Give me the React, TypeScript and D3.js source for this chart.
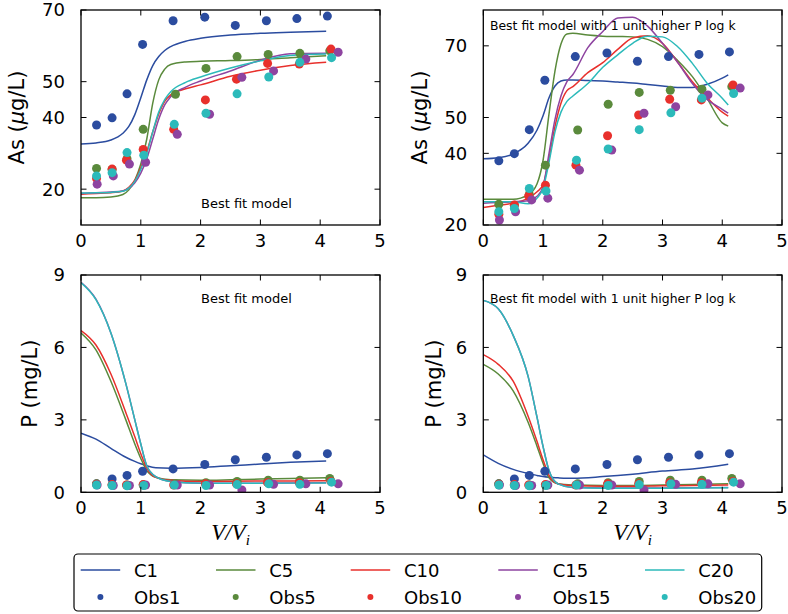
import React from "react";
import * as d3 from "d3";

// ---------- data ----------
const seriesNames = ["1", "5", "10", "15", "20"];
const colors = ["#2b4c9f", "#5a8a3c", "#e8302c", "#8e44a0", "#2cbaba"];

const xTicks = [0, 1, 2, 3, 4, 5];
const asTicks = [20, 40, 50, 70];
const pTicks = [0, 3, 6, 9];

// observation x positions (V/Vi)
const obsX1 = [0.26, 0.52, 0.77, 1.03, 1.54, 2.07, 2.58, 3.1, 3.61, 4.12];
const obsX5 = [0.26, 0.52, 0.77, 1.04, 1.58, 2.09, 2.61, 3.13, 3.66, 4.16];
const obsX10 = [0.26, 0.52, 0.76, 1.04, 1.55, 2.08, 2.6, 3.12, 3.65, 4.18];
const obsX15 = [0.27, 0.54, 0.81, 1.08, 1.61, 2.15, 2.69, 3.22, 3.76, 4.3];
const obsX20 = [0.26, 0.52, 0.77, 1.05, 1.56, 2.09, 2.61, 3.14, 3.66, 4.19];

// observed As (ug/L)
const asObs1 = [37.9, 39.9, 46.6, 60.4, 67.0, 68.0, 65.7, 67.0, 67.6, 68.3];
const asObs5 = [25.8, 25.5, 28.5, 36.7, 46.5, 53.7, 57.0, 57.6, 57.9, 58.6];
const asObs10 = [23.0, 25.6, 28.1, 31.1, 36.7, 44.9, 50.7, 55.1, 54.9, 59.1];
const asObs15 = [21.4, 23.7, 27.0, 27.5, 35.3, 40.9, 51.2, 53.0, 56.3, 58.2];
const asObs20 = [23.7, 24.6, 30.2, 29.5, 38.1, 41.2, 46.6, 51.3, 55.4, 56.7];

// observed P (mg/L)
const pObs1 = [0.35, 0.55, 0.7, 0.87, 0.97, 1.15, 1.35, 1.45, 1.55, 1.6];
const pObs5 = [0.35, 0.3, 0.3, 0.3, 0.35, 0.4, 0.45, 0.5, 0.5, 0.57];
const pObs10 = [0.33, 0.32, 0.3, 0.32, 0.3, 0.35, 0.35, 0.4, 0.4, 0.45];
const pObs15 = [0.3, 0.28, 0.28, 0.3, 0.3, 0.3, 0.1, 0.33, 0.35, 0.35];
const pObs20 = [0.3, 0.28, 0.27, 0.28, 0.3, 0.28, 0.32, 0.35, 0.33, 0.42];

// model As, best fit
const tlX = [0, 0.25, 0.5, 0.7, 0.8, 0.9, 1.0, 1.1, 1.2, 1.3, 1.4, 1.5, 1.75, 2, 2.5, 3, 3.5, 4.1];
const tlC1 = [32.6, 32.9, 33.7, 35.6, 37.5, 40.8, 45.5, 50.5, 54.5, 57.0, 58.7, 59.8, 61.3, 62.1, 63.0, 63.5, 63.8, 64.1];
const tlC5 = [17.6, 17.6, 17.8, 18.5, 19.8, 22.5, 27, 34, 44, 50.5, 53.5, 54.8, 55.5, 55.7, 55.9, 56.2, 56.7, 57.2];
const tlC10 = [18.6, 18.8, 19.0, 19.5, 20.5, 22.5, 26, 30.5, 36, 41, 44.5, 46.3, 48, 49.1, 51.5, 53.2, 54.5, 55.4];
const tlC15 = [18.8, 19, 19.2, 19.5, 20.2, 21.8, 24.5, 28.5, 34, 39.5, 43.5, 45.8, 48.5, 50.2, 53, 56, 57.8, 57.9];
const tlC20 = [18.9, 19, 19.1, 19.4, 20.3, 22.2, 25.5, 30, 36, 41.5, 45, 47.2, 49.8, 51.3, 53.8, 55.8, 57.3, 57.7];

// model As, 1 unit higher P log k
const trX = [0, 0.25, 0.5, 0.75, 0.9, 1.0, 1.1, 1.2, 1.3, 1.4, 1.5, 1.75, 2, 2.25, 2.5, 2.75, 3, 3.25, 3.5, 3.75, 4.0, 4.1];
const trC1 = [38.5, 38.8, 39.8, 42.8, 46.5, 50.5, 55.5, 58.8, 60.2, 60.5, 60.5, 60.3, 60.2, 59.9, 59.6, 59.2, 58.8, 58.4, 58.4, 59.3, 61.0, 61.9];
const trC5 = [27.2, 27.2, 27.2, 28.4, 31.5, 38, 51, 63, 70.5, 73.3, 73.5, 73, 72.7, 72.6, 72.5, 71.8, 69.8, 66, 61.4, 55.2, 48.5, 47.6];
const trC10 = [24.9, 25.5, 26.1, 27.5, 29.3, 31.2, 38.5, 47.5, 54, 57.5, 58.6, 62.5, 65.3, 69, 72.2, 72.8, 70.7, 65.5, 60, 55.5, 51.5, 50.4];
const trC15 = [26.1, 26.3, 26.5, 26.8, 28, 30.7, 40, 49.5, 56, 60, 62, 69.5, 74, 77.8, 78, 75.5, 70.7, 65.5, 59.5, 55, 52.3, 51.2];
const trC20 = [26.5, 26.5, 26.5, 25.9, 27.5, 30.2, 37.5, 46, 51.5, 54.5, 56, 59.5, 64, 67.5, 70.7, 72.7, 72.5, 69.8, 65.1, 59.5, 55.4, 53.5];

// model P, best fit
const bX = [0, 0.25, 0.5, 0.75, 0.9, 1.0, 1.1, 1.25, 1.5, 2, 2.5, 3, 3.5, 4.1];
const blC1 = [2.45, 2.2, 1.82, 1.45, 1.28, 1.18, 1.1, 1.02, 1.0, 1.03, 1.1, 1.17, 1.24, 1.3];
const blC5 = [6.6, 5.9, 4.6, 3.0, 2.0, 1.4, 0.9, 0.62, 0.52, 0.5, 0.52, 0.55, 0.57, 0.6];
const blC10 = [6.7, 6.1, 4.9, 3.3, 2.3, 1.6, 1.0, 0.62, 0.5, 0.45, 0.46, 0.47, 0.47, 0.48];
const blC15 = [8.7, 8.0, 6.6, 4.5, 3.0, 2.0, 1.1, 0.65, 0.45, 0.38, 0.38, 0.38, 0.39, 0.4];
const blC20 = [8.68, 7.98, 6.6, 4.5, 3.0, 2.0, 1.1, 0.65, 0.45, 0.38, 0.37, 0.37, 0.38, 0.39];

// model P, 1 unit higher P log k
const brC1 = [1.55, 1.2, 0.95, 0.78, 0.7, 0.65, 0.62, 0.6, 0.58, 0.65, 0.75, 0.88, 0.96, 1.16];
const brC5 = [5.3, 4.9, 4.2, 2.9, 1.9, 1.2, 0.6, 0.35, 0.3, 0.28, 0.28, 0.3, 0.32, 0.35];
const brC10 = [5.7, 5.3, 4.6, 3.15, 2.1, 1.35, 0.7, 0.35, 0.27, 0.25, 0.25, 0.27, 0.28, 0.3];
const brC15 = [7.95, 7.6, 6.5, 4.8, 3.1, 1.9, 0.9, 0.35, 0.2, 0.18, 0.18, 0.18, 0.19, 0.2];
const brC20 = [7.95, 7.6, 6.5, 4.8, 3.1, 1.9, 0.9, 0.35, 0.2, 0.17, 0.17, 0.17, 0.18, 0.19];

const obsXs = [obsX1, obsX5, obsX10, obsX15, obsX20];
const asObs = [asObs1, asObs5, asObs10, asObs15, asObs20];
const pObs = [pObs1, pObs5, pObs10, pObs15, pObs20];

const FONT = "'DejaVu Sans', sans-serif";

type PanelProps = {
  id: string;
  left: number; right: number; top: number; bottom: number;
  yDomain: [number, number];
  yTicks: number[];
  curveX: number[];
  curves: number[][];
  obs: number[][];
  annot: string; annotX: number; annotY: number; annotSize: number;
  ylabel: "as" | "p"; ylabelX: number;
  xlabel: boolean;
};

function Panel(p: PanelProps) {
  const xs = d3.scaleLinear().domain([0, 5]).range([p.left, p.right]);
  const ys = d3.scaleLinear().domain(p.yDomain).range([p.bottom, p.top]);
  const tl = 5.5;
  const midY = (p.top + p.bottom) / 2;
  const midX = (p.left + p.right) / 2;
  return (
    <g>
      <defs>
        <clipPath id={p.id}>
          <rect x={p.left} y={p.top} width={p.right - p.left} height={p.bottom - p.top} />
        </clipPath>
      </defs>
      <g clipPath={`url(#${p.id})`}>
        {p.curves.map((c, si) => {
          const line = d3
            .line<number>()
            .x((_, i) => xs(p.curveX[i]))
            .y((d) => ys(d))
            .curve(d3.curveMonotoneX);
          return <path key={si} d={line(c) || ""} fill="none" stroke={colors[si]} strokeWidth={1.5} />;
        })}
        {p.obs.map((o, si) =>
          o.map((v, i) => (
            <circle key={`${si}-${i}`} cx={xs(obsXs[si][i])} cy={ys(v)} r={4.5} fill={colors[si]} />
          ))
        )}
      </g>
      {xTicks.map((t) => (
        <g key={"x" + t}>
          <line x1={xs(t)} x2={xs(t)} y1={p.bottom} y2={p.bottom - tl} stroke="#000" strokeWidth={1} />
          <line x1={xs(t)} x2={xs(t)} y1={p.top} y2={p.top + tl} stroke="#000" strokeWidth={1} />
          <text x={xs(t)} y={p.bottom + 21.5} fontSize={18} fontFamily={FONT} textAnchor="middle">{t}</text>
        </g>
      ))}
      {p.yTicks.map((t) => (
        <g key={"y" + t}>
          <line x1={p.left} x2={p.left + tl} y1={ys(t)} y2={ys(t)} stroke="#000" strokeWidth={1} />
          <line x1={p.right} x2={p.right - tl} y1={ys(t)} y2={ys(t)} stroke="#000" strokeWidth={1} />
          <text x={p.left - 16} y={ys(t)} dy="0.36em" fontSize={18} fontFamily={FONT} textAnchor="end">{t}</text>
        </g>
      ))}
      <rect x={p.left} y={p.top} width={p.right - p.left} height={p.bottom - p.top} fill="none" stroke="#000" strokeWidth={1.3} />
      <text x={p.annotX} y={p.annotY} fontSize={p.annotSize} fontFamily={FONT}>{p.annot}</text>
      <text transform={`translate(${p.ylabelX},${midY}) rotate(-90)`} fontSize={21} fontFamily={FONT} textAnchor="middle">
        {p.ylabel === "as" ? (
          <>As (<tspan fontStyle="italic">μ</tspan>g/L)</>
        ) : (
          <>P (mg/L)</>
        )}
      </text>
      {p.xlabel && (
        <text x={midX} y={p.bottom + 48} fontSize={23} fontFamily="'Liberation Serif', serif" fontStyle="italic" textAnchor="middle">
          V/V<tspan fontSize={15} dy={5}>i</tspan>
        </text>
      )}
    </g>
  );
}

const legendLineX = [80.7, 216, 350.7, 498.3, 645];
const legendTextX = [134, 269.3, 404, 552.7, 698.3];

export default function App() {
  const L = 81, R = 380, L2 = 483.3, R2 = 782;
  return (
    <svg width={788} height={614} style={{ position: "absolute", left: 0, top: 0, background: "#fff" }}>
      <rect x={0} y={0} width={788} height={614} fill="#fff" />
      <Panel id="c1" left={L} right={R} top={10} bottom={225} yDomain={[10, 70]} yTicks={asTicks}
        curveX={tlX} curves={[tlC1, tlC5, tlC10, tlC15, tlC20]} obs={asObs}
        annot="Best fit model" annotX={201} annotY={208} annotSize={13}
        ylabel="as" ylabelX={24} xlabel={false} />
      <Panel id="c2" left={L2} right={R2} top={10} bottom={225} yDomain={[20, 80]} yTicks={asTicks}
        curveX={trX} curves={[trC1, trC5, trC10, trC15, trC20]} obs={asObs}
        annot="Best fit model with 1 unit higher P log k" annotX={490} annotY={29.5} annotSize={12.4}
        ylabel="as" ylabelX={427.3} xlabel={false} />
      <Panel id="c3" left={L} right={R} top={275} bottom={492.3} yDomain={[0, 9]} yTicks={pTicks}
        curveX={bX} curves={[blC1, blC5, blC10, blC15, blC20]} obs={pObs}
        annot="Best fit model" annotX={201} annotY={303} annotSize={13}
        ylabel="p" ylabelX={37.3} xlabel={true} />
      <Panel id="c4" left={L2} right={R2} top={275} bottom={492.3} yDomain={[0, 9]} yTicks={pTicks}
        curveX={bX} curves={[brC1, brC5, brC10, brC15, brC20]} obs={pObs}
        annot="Best fit model with 1 unit higher P log k" annotX={490} annotY={302.5} annotSize={12.4}
        ylabel="p" ylabelX={440.6} xlabel={true} />
      <rect x={74} y={554} width={687.7} height={57} rx={4} fill="#fff" stroke="#000" strokeWidth={1.2} />
      {seriesNames.map((n, i) => (
        <g key={n}>
          <line x1={legendLineX[i]} x2={legendLineX[i] + 39.5} y1={570} y2={570} stroke={colors[i]} strokeWidth={1.5} />
          <text x={legendTextX[i]} y={577} fontSize={18} fontFamily={FONT}>{"C" + n}</text>
          <circle cx={legendLineX[i] + 19.7} cy={597} r={3} fill={colors[i]} />
          <text x={legendTextX[i]} y={603.5} fontSize={18} fontFamily={FONT}>{"Obs" + n}</text>
        </g>
      ))}
    </svg>
  );
}
